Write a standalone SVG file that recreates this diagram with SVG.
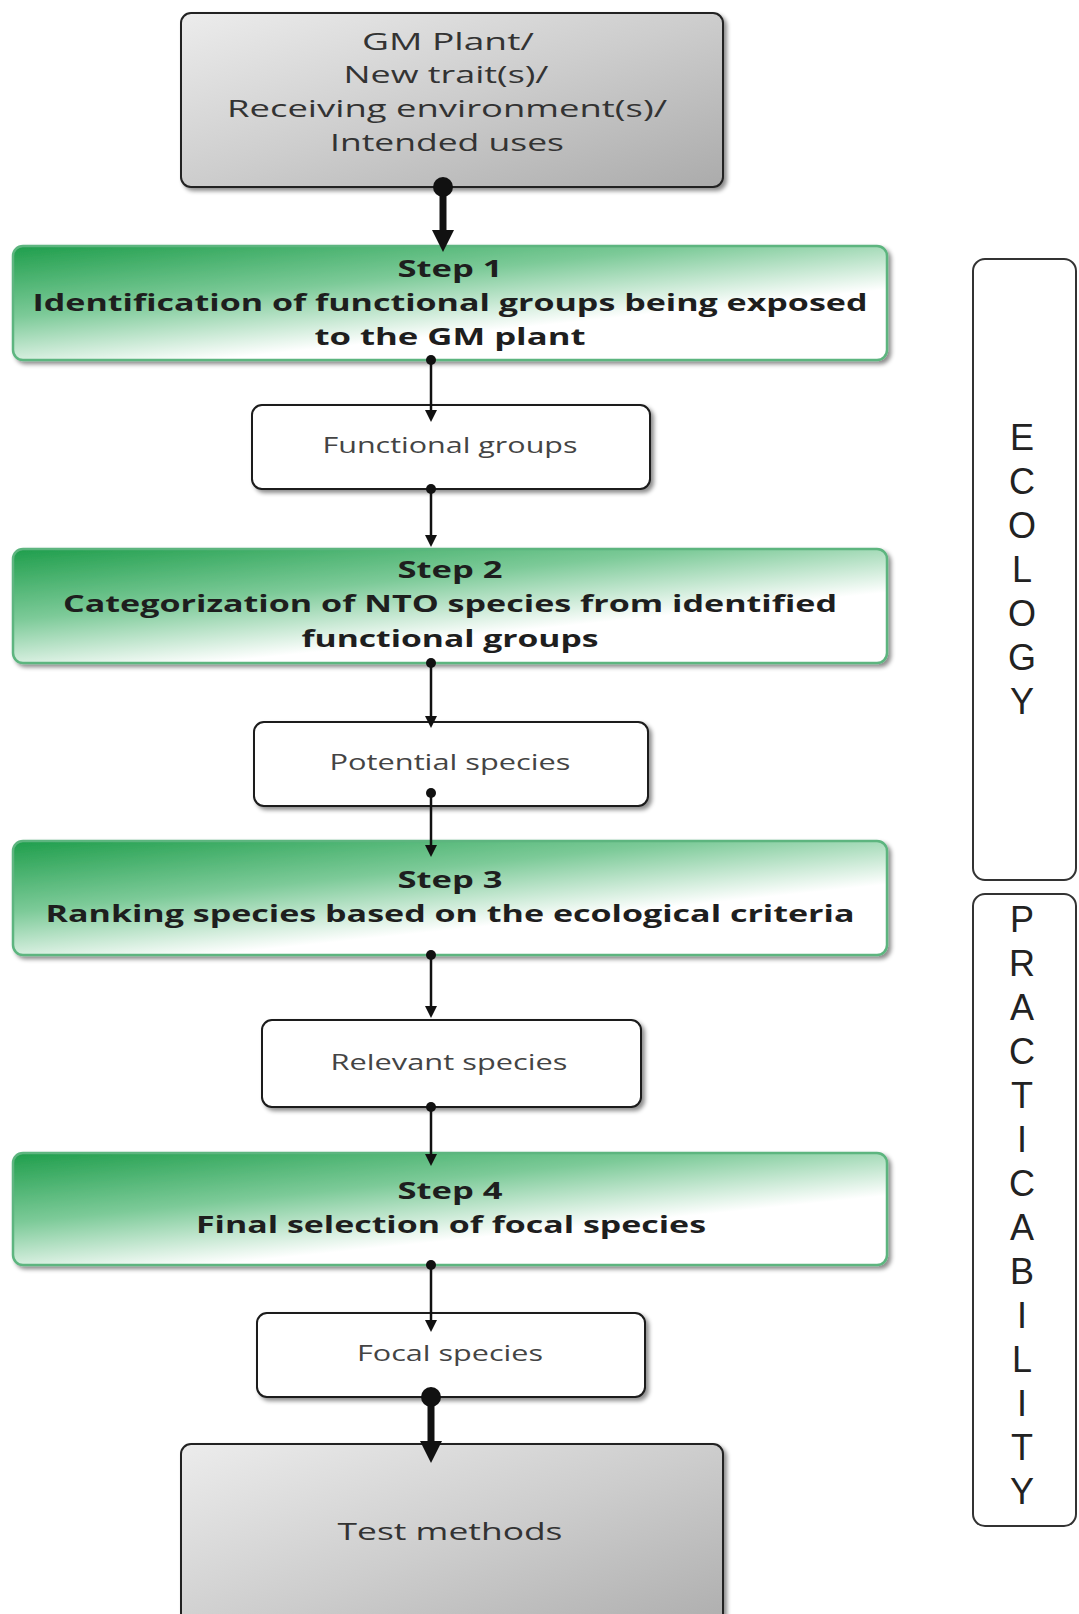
<svg xmlns="http://www.w3.org/2000/svg" width="1079" height="1614" viewBox="0 0 1079 1614">
<defs>
  <linearGradient id="gGreen" x1="0" y1="0" x2="0.8" y2="1">
    <stop offset="0" stop-color="#1f9e4c"/>
    <stop offset="0.38" stop-color="#7cca98"/>
    <stop offset="0.72" stop-color="#ffffff"/>
    <stop offset="1" stop-color="#ffffff"/>
  </linearGradient>
  <linearGradient id="gGray" x1="0" y1="0" x2="1" y2="1">
    <stop offset="0" stop-color="#ececec"/>
    <stop offset="0.5" stop-color="#cdcdcd"/>
    <stop offset="1" stop-color="#ababab"/>
  </linearGradient>
  <filter id="shadow" x="-5%" y="-10%" width="115%" height="130%">
    <feDropShadow dx="3" dy="3" stdDeviation="2" flood-color="#000" flood-opacity="0.45"/>
  </filter>
  <marker id="dot" markerUnits="userSpaceOnUse" viewBox="0 0 10 10" refX="5" refY="5" markerWidth="10" markerHeight="10" orient="auto">
    <circle cx="5" cy="5" r="5" fill="#111"/>
  </marker>
  <marker id="arrow" markerUnits="userSpaceOnUse" viewBox="0 0 12 12" refX="8" refY="6" markerWidth="12" markerHeight="12" orient="auto">
    <path d="M0,0 L12,6 L0,12 z" fill="#111"/>
  </marker>
  <marker id="dotBig" markerUnits="userSpaceOnUse" viewBox="0 0 20 20" refX="10" refY="10" markerWidth="20" markerHeight="20" orient="auto">
    <circle cx="10" cy="10" r="10" fill="#111"/>
  </marker>
  <marker id="arrowBig" markerUnits="userSpaceOnUse" viewBox="0 0 22 22" refX="14" refY="11" markerWidth="22" markerHeight="22" orient="auto">
    <path d="M0,0 L22,11 L0,22 z" fill="#111"/>
  </marker>
</defs>
<style>
  .gray { fill: url(#gGray); stroke: #222; stroke-width: 2; filter: url(#shadow); }
  .green { fill: url(#gGreen); stroke: #5db57f; stroke-width: 2.5; filter: url(#shadow); }
  .plain { fill: #ffffff; stroke: #1a1a1a; stroke-width: 2; filter: url(#shadow); }
  .side { fill: #ffffff; stroke: #333; stroke-width: 2; }
  .t-gray { font-family: "Open Sans", "Liberation Sans", sans-serif; font-size: 24px; fill: #333; text-anchor: middle; }
  .t-step { font-family: "Open Sans", "Liberation Sans", sans-serif; font-size: 24px; font-weight: bold; fill: #1e1e1e; text-anchor: middle; }
  .t-small { font-family: "Open Sans", "Liberation Sans", sans-serif; font-size: 21px; fill: #444; text-anchor: middle; }
  .t-side { font-family: "Liberation Sans", Arial, sans-serif; font-size: 36px; fill: #222; text-anchor: middle; }
  .thin { stroke: #111; stroke-width: 2.5; fill: none; marker-start: url(#dot); marker-end: url(#arrow); }
  .thick { stroke: #111; stroke-width: 7; fill: none; marker-start: url(#dotBig); marker-end: url(#arrowBig); }
</style>
<rect width="1079" height="1614" fill="#ffffff"/>

<g id="input">
  <rect class="gray" x="181" y="13" width="542" height="174" rx="10"/>
  <text class="t-gray" x="448" y="50" textLength="172" lengthAdjust="spacingAndGlyphs">GM Plant/</text>
  <text class="t-gray" x="446" y="83" textLength="205" lengthAdjust="spacingAndGlyphs">New trait(s)/</text>
  <text class="t-gray" x="447" y="117" textLength="440" lengthAdjust="spacingAndGlyphs">Receiving environment(s)/</text>
  <text class="t-gray" x="447" y="151" textLength="234" lengthAdjust="spacingAndGlyphs">Intended uses</text>
</g>

<g id="step1">
  <rect class="green" x="13" y="246" width="874" height="114" rx="10"/>
  <text class="t-step" x="450" y="277" textLength="105" lengthAdjust="spacingAndGlyphs">Step 1</text>
  <text class="t-step" x="450" y="311" textLength="835" lengthAdjust="spacingAndGlyphs">Identification of functional groups being exposed</text>
  <text class="t-step" x="450" y="345" textLength="271" lengthAdjust="spacingAndGlyphs">to the GM plant</text>
</g>

<g id="functional-groups">
  <rect class="plain" x="252" y="405" width="398" height="84" rx="10"/>
  <text class="t-small" x="450" y="453" textLength="255" lengthAdjust="spacingAndGlyphs">Functional groups</text>
</g>

<g id="step2">
  <rect class="green" x="13" y="549" width="874" height="114" rx="10"/>
  <text class="t-step" x="450" y="578" textLength="105" lengthAdjust="spacingAndGlyphs">Step 2</text>
  <text class="t-step" x="450" y="612" textLength="774" lengthAdjust="spacingAndGlyphs">Categorization of NTO species from identified</text>
  <text class="t-step" x="450" y="647" textLength="297" lengthAdjust="spacingAndGlyphs">functional groups</text>
</g>

<g id="potential-species">
  <rect class="plain" x="254" y="722" width="394" height="84" rx="10"/>
  <text class="t-small" x="450" y="770" textLength="241" lengthAdjust="spacingAndGlyphs">Potential species</text>
</g>

<g id="step3">
  <rect class="green" x="13" y="841" width="874" height="114" rx="10"/>
  <text class="t-step" x="450" y="888" textLength="105" lengthAdjust="spacingAndGlyphs">Step 3</text>
  <text class="t-step" x="450" y="922" textLength="809" lengthAdjust="spacingAndGlyphs">Ranking species based on the ecological criteria</text>
</g>

<g id="relevant-species">
  <rect class="plain" x="262" y="1020" width="379" height="87" rx="10"/>
  <text class="t-small" x="449" y="1070" textLength="237" lengthAdjust="spacingAndGlyphs">Relevant species</text>
</g>

<g id="step4">
  <rect class="green" x="13" y="1153" width="874" height="112" rx="10"/>
  <text class="t-step" x="450" y="1199" textLength="105" lengthAdjust="spacingAndGlyphs">Step 4</text>
  <text class="t-step" x="451" y="1233" textLength="510" lengthAdjust="spacingAndGlyphs">Final selection of focal species</text>
</g>

<g id="focal-species">
  <rect class="plain" x="257" y="1313" width="388" height="84" rx="10"/>
  <text class="t-small" x="450" y="1361" textLength="186" lengthAdjust="spacingAndGlyphs">Focal species</text>
</g>

<g id="test-methods">
  <rect class="gray" x="181" y="1444" width="542" height="200" rx="10"/>
  <text class="t-gray" x="450" y="1540" font-size="26" textLength="225" lengthAdjust="spacingAndGlyphs">Test methods</text>
</g>

<g id="ecology">
  <rect class="side" x="973" y="259" width="103" height="621" rx="12"/>
  <text class="t-side" x="1022" y="450">E</text>
  <text class="t-side" x="1022" y="494">C</text>
  <text class="t-side" x="1022" y="538">O</text>
  <text class="t-side" x="1022" y="582">L</text>
  <text class="t-side" x="1022" y="626">O</text>
  <text class="t-side" x="1022" y="670">G</text>
  <text class="t-side" x="1022" y="714">Y</text>
</g>

<g id="practicability">
  <rect class="side" x="973" y="894" width="103" height="632" rx="12"/>
  <text class="t-side" x="1022" y="932">P</text>
  <text class="t-side" x="1022" y="976">R</text>
  <text class="t-side" x="1022" y="1020">A</text>
  <text class="t-side" x="1022" y="1064">C</text>
  <text class="t-side" x="1022" y="1108">T</text>
  <text class="t-side" x="1022" y="1152">I</text>
  <text class="t-side" x="1022" y="1196">C</text>
  <text class="t-side" x="1022" y="1240">A</text>
  <text class="t-side" x="1022" y="1284">B</text>
  <text class="t-side" x="1022" y="1328">I</text>
  <text class="t-side" x="1022" y="1372">L</text>
  <text class="t-side" x="1022" y="1416">I</text>
  <text class="t-side" x="1022" y="1460">T</text>
  <text class="t-side" x="1022" y="1504">Y</text>
</g>

<g id="connectors">
  <line class="thick" x1="443" y1="187" x2="443" y2="244"/>
  <line class="thin" x1="431" y1="360" x2="431" y2="418"/>
  <line class="thin" x1="431" y1="489" x2="431" y2="543"/>
  <line class="thin" x1="431" y1="663" x2="431" y2="724"/>
  <line class="thin" x1="431" y1="793" x2="431" y2="853"/>
  <line class="thin" x1="431" y1="955" x2="431" y2="1014"/>
  <line class="thin" x1="431" y1="1107" x2="431" y2="1162"/>
  <line class="thin" x1="431" y1="1265" x2="431" y2="1328"/>
  <line class="thick" x1="431" y1="1397" x2="431" y2="1455"/>
</g>
</svg>
